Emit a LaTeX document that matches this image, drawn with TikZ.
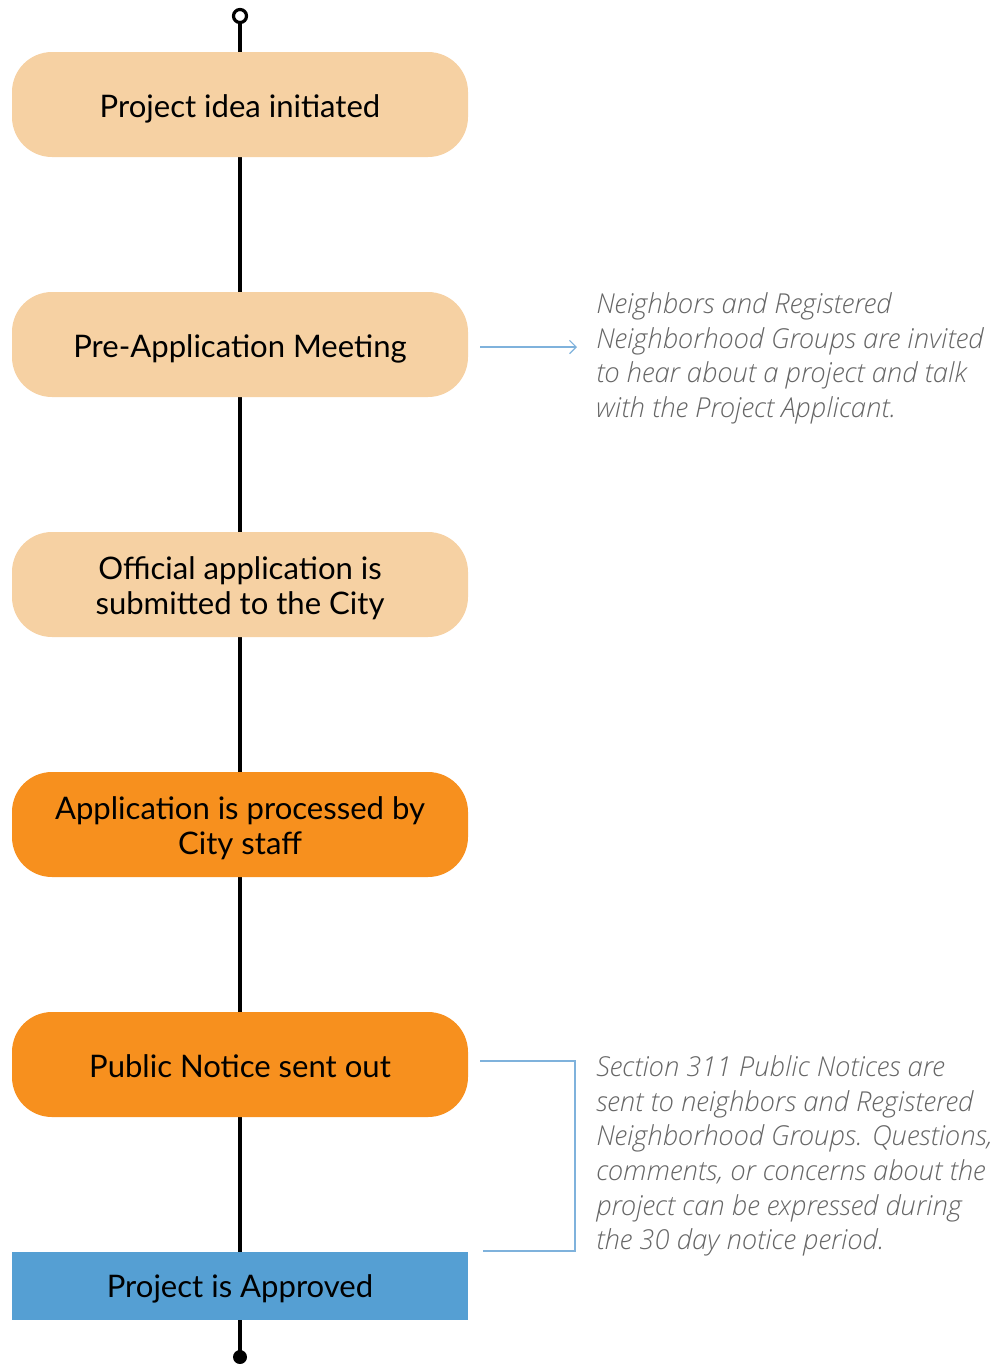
\documentclass[tikz,border=0pt]{standalone}
\usepackage{fontspec}
\setmainfont{Lato}
\newfontfamily\notefont{Open Sans}[UprightFont={* Light}, ItalicFont={* Light Italic}]
\usetikzlibrary{arrows.meta}
\definecolor{peach}{HTML}{F6D1A3}
\definecolor{orng}{HTML}{F7901E}
\definecolor{bluebox}{HTML}{559FD3}
\definecolor{blueline}{HTML}{7FB2DC}
\definecolor{notegray}{HTML}{666666}
\newcommand{\lowered}[2]{\raisebox{-#1}[\height][\depth]{\begin{tabular}{@{}c@{}}#2\end{tabular}}}
\tikzset{
  pill/.style={minimum width=456*0.75pt, minimum height=105*0.75pt, rounded corners=40*0.75pt, align=center, inner sep=0pt, font=\fontsize{23.3}{26.5}\selectfont},
  lightpill/.style={pill, fill=peach},
  darkpill/.style={pill, fill=orng},
  approvebox/.style={minimum width=456*0.75pt, minimum height=68*0.75pt, fill=bluebox, inner sep=0pt, font=\fontsize{23.3}{26.5}\selectfont},
  spine/.style={line width=3.2pt},
  note/.style={anchor=north west, align=left, inner sep=0pt, text=notegray, font=\notefont\itshape\fontsize{20.6}{26}\selectfont},
  notelink/.style={blueline, line width=0.9pt}
}
\begin{document}
\begin{tikzpicture}[x=0.75pt,y=-0.75pt]
\useasboundingbox (0,0) rectangle (1007,1364);
\coordinate (top) at (240,16);
\coordinate (bot) at (240,1357);
\draw[spine] (top) -- (bot);
\fill[black] (bot) circle (7);
\draw[line width=2.4pt, fill=white] (top) circle (6.5);
\node[lightpill] (n1) at (240,104.5) {\lowered{4.5pt}{Project idea initiated}};
\node[lightpill] (n2) at (240,344.5) {\lowered{4.5pt}{Pre-Application Meeting}};
\node[lightpill] (n3) at (240,584.5) {\lowered{4pt}{Official application is\\submitted to the City}};
\node[darkpill] (n4) at (240,824.5) {\lowered{4pt}{Application is processed by\\City staff}};
\node[darkpill] (n5) at (240,1064.5) {\lowered{4.5pt}{Public Notice sent out}};
\node[approvebox] (n6) at (240,1286) {\lowered{3pt}{Project is Approved}};
\node[note] (t1) at (596,292.5) {Neighbors and Registered\\Neighborhood Groups are invited\\to hear about a project and talk\\with the Project Applicant.};
\node[note] (t2) at (596,1055.5) {Section 311 Public Notices are\\sent to neighbors and Registered\\Neighborhood Groups. Questions,\\comments, or concerns about the\\project can be expressed during\\the 30 day notice period.};
\coordinate (a1) at (480,347);
\coordinate (a2) at (577,347);
\draw[notelink, -{Straight Barb[length=5pt, width=10pt]}] (a1) -- (a2);
\coordinate (b1) at (480,1061);
\coordinate (b2) at (575,1061);
\coordinate (b3) at (575,1251);
\coordinate (b4) at (483,1251);
\draw[notelink] (b1) -- (b2) -- (b3) -- (b4);
\end{tikzpicture}
\end{document}
